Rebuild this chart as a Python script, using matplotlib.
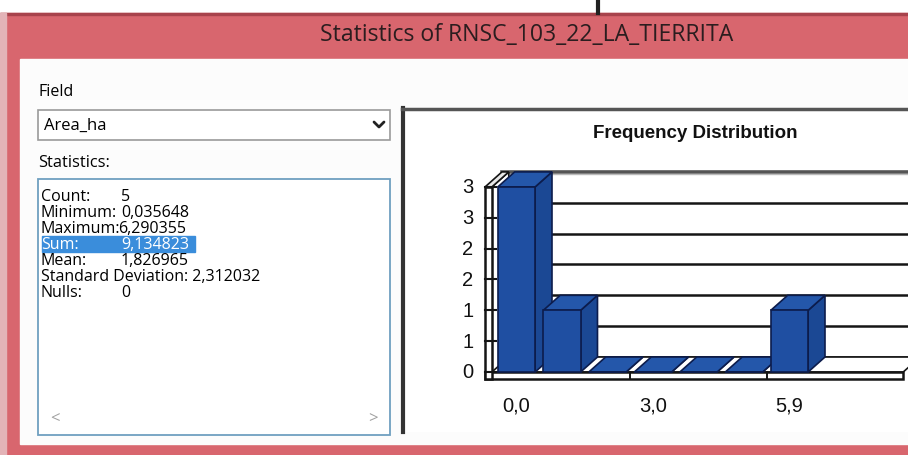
import matplotlib.pyplot as plt
from matplotlib.patches import Rectangle, Polygon

# ---- data ----
window_title = "Statistics of RNSC_103_22_LA_TIERRITA"
field_name = "Area_ha"
stat_names = ["Count:", "Minimum:", "Maximum:", "Sum:", "Mean:",
              "Standard Deviation:", "Nulls:"]
stat_values = ["5", "0,035648", "6,290355", "9,134823", "1,826965",
               "2,312032", "0"]
selected_stat = "Sum:"

chart_title = "Frequency Distribution"
bin_counts = [3, 1, 0, 0, 0, 0, 1]
x_tick_bins = [0, 3, 6]
x_tick_labels = ["0,0", "3,0", "5,9"]
y_tick_values = [0, 0.5, 1, 1.5, 2, 2.5, 3]
y_tick_labels = ["0", "1", "1", "2", "2", "3", "3"]

W, H = 908, 456
UI_FONT = ["Open Sans", "DejaVu Sans"]
CHART_FONT = ["Liberation Sans", "DejaVu Sans"]

fig = plt.figure(figsize=(W / 100, H / 100), dpi=100)

# ---- dialog chrome, drawn in pixel coordinates ----
ui = fig.add_axes([0, 0, 1, 1])
ui.set_xlim(0, W)
ui.set_ylim(H, 0)
ui.axis("off")

red = "#d8666e"
ui.add_patch(Rectangle((0, 14), W, H - 14, color=red))
ui.add_patch(Rectangle((0, 14), W, 2, color="#a8434c"))
ui.add_patch(Rectangle((0, 14), 6, H - 14, color="#e3b3b7"))
ui.add_patch(Rectangle((20, 60), W - 20, 385, color="#fcfcfc"))
ui.plot([598, 598], [0, 14], color="#222222", lw=3)
ui.text(527, 35, window_title, ha="center", va="center", fontsize=16.6,
        color="#2b1d1f", family=UI_FONT)

ui.text(38, 92, "Field", ha="left", va="center", fontsize=11.5,
        color="#000000", family=UI_FONT)
ui.add_patch(Rectangle((38, 111), 352, 30, fc="white", ec="#9a9a9a", lw=1.2))
ui.text(44, 126, field_name, ha="left", va="center", fontsize=12,
        color="#000000", family=UI_FONT)
ui.plot([374, 379, 384], [123, 128, 123], color="#222222", lw=2,
        solid_capstyle="round")

ui.text(38, 163, "Statistics:", ha="left", va="center", fontsize=11.8,
        color="#000000", family=UI_FONT)
ui.add_patch(Rectangle((38, 180), 352, 256, fc="white", ec="#6f9fc0", lw=1.3))
for k, (name, val) in enumerate(zip(stat_names, stat_values)):
    y = 197 + 16 * k
    col = "#000000"
    if name == selected_stat:
        ui.add_patch(Rectangle((42, y - 8), 153, 15.5, color="#3a8ddb"))
        col = "white"
    if name.startswith("Standard"):
        ui.text(41, y, name + " " + val, ha="left", va="center",
                fontsize=11.5, color=col, family=UI_FONT)
    else:
        ui.text(41, y, name, ha="left", va="center", fontsize=11.5,
                color=col, family=UI_FONT)
        ui.text(118 if name == "Maximum:" else 121, y, val, ha="left",
                va="center", fontsize=11.5, color=col, family=UI_FONT)
ui.text(55, 419, "<", ha="center", va="center", fontsize=12,
        color="#a0a0a0", family=UI_FONT)
ui.text(373, 419, ">", ha="center", va="center", fontsize=12,
        color="#a0a0a0", family=UI_FONT)

# chart panel frame
ui.add_patch(Rectangle((402, 110), 520, 323, fc="white", ec="none"))
ui.plot([403, 403], [109, 433], color="#333333", lw=3)
ui.plot([402, W], [110, 110], color="#555555", lw=2.5)

# ---- 3D-look histogram in data coordinates ----
x0_px, y0_px = 516.5, 373          # pixel of bin 0 centre / value 0
px_bin, px_unit = 45.5, 61.7
l_px, r_px, t_px, b_px = 405, W, 112, 433
cx = fig.add_axes([l_px / W, 1 - b_px / H, (r_px - l_px) / W, (b_px - t_px) / H])
cx.set_xlim((l_px - x0_px) / px_bin, (r_px - x0_px) / px_bin)
cx.set_ylim((y0_px - b_px) / px_unit, (y0_px - t_px) / px_unit)
cx.axis("off")
cx.patch.set_alpha(0)

dx, dy = 0.37, 0.243
half = 0.41
ymax = max(y_tick_values)
wall_l, wall_r = -0.69, -0.54
floor_end = 8.5
edge = "#0c1c4c"
c_front, c_side, c_top = "#1f4fa2", "#1b4894", "#2457aa"

# back wall with grid lines
xr = cx.get_xlim()[1] + 1
cx.add_patch(Polygon([(wall_l + dx, dy), (xr, dy), (xr, ymax + dy),
                      (wall_l + dx, ymax + dy)], fc="white", ec="none", zorder=1))
for v in y_tick_values[:-1]:
    cx.plot([wall_l + dx, xr], [v + dy, v + dy], color="#151515", lw=1.8, zorder=2)
cx.plot([wall_l + dx, xr], [ymax + dy, ymax + dy], color="#555555", lw=2.6, zorder=2)
cx.plot([wall_l + dx, xr], [ymax + dy - 0.035, ymax + dy - 0.035], color="#bbbbbb",
        lw=1, zorder=2)

# floor
cx.add_patch(Polygon([(wall_l, 0), (floor_end, 0), (floor_end + dx, dy),
                      (wall_l + dx, dy)], fc="white", ec="#151515", lw=1.2, zorder=3))
cx.add_patch(Rectangle((wall_l, -0.12), floor_end - wall_l, 0.12, fc="white",
                       ec="#151515", lw=1.8, zorder=3))
for s in [2.5, 5.5]:
    cx.plot([s, s], [-0.12, 0], color="#151515", lw=1.4, zorder=3)

# left wall
cx.add_patch(Polygon([(wall_r, 0), (wall_r + dx, dy), (wall_r + dx, ymax + dy),
                      (wall_r, ymax)], fc="white", ec="#151515", lw=1.2, zorder=3))
cx.add_patch(Polygon([(wall_l, ymax), (wall_l + dx, ymax + dy),
                      (wall_r + dx, ymax + dy), (wall_r, ymax)],
                     fc="#e8e8e8", ec="#151515", lw=1.2, zorder=3))
cx.add_patch(Rectangle((wall_l, -0.12), wall_r - wall_l, ymax + 0.12, fc="white",
                       ec="#151515", lw=1.8, zorder=3.1))
for v in y_tick_values:
    cx.plot([wall_l, wall_r + 0.1], [v, v], color="#151515", lw=1.5, zorder=3.2)

# bars, left to right so each covers the side of the previous one
for i, c in enumerate(bin_counts):
    z = 5 + 0.1 * i
    xl, xr_b = i - half, i + half
    cx.add_patch(Polygon([(xr_b, 0), (xr_b + dx, dy), (xr_b + dx, c + dy), (xr_b, c)],
                         fc=c_side, ec=edge, lw=1.2, zorder=z))
    cx.add_patch(Polygon([(xl, c), (xl + dx, c + dy), (xr_b + dx, c + dy), (xr_b, c)],
                         fc=c_top, ec=edge, lw=1.2, zorder=z))
    cx.bar(i, c, width=2 * half, color=c_front, edgecolor=edge, lw=1.2, zorder=z + 0.01)

# tick labels and title
for v, lab in zip(y_tick_values, y_tick_labels):
    cx.text((468 - x0_px) / px_bin, v, lab, ha="center", va="center",
            fontsize=14.5, color="#111111", family=CHART_FONT)
for b, lab in zip(x_tick_bins, x_tick_labels):
    cx.text(b, -0.53, lab, ha="center", va="center", fontsize=14.5,
            color="#111111", family=CHART_FONT)
cx.text((695 - l_px) / (r_px - l_px), (b_px - 133) / (b_px - t_px), chart_title,
        transform=cx.transAxes, ha="center", va="center", fontsize=13.5,
        fontweight="bold", color="#111111", family=CHART_FONT)

fig.savefig("out.png", dpi=100)
